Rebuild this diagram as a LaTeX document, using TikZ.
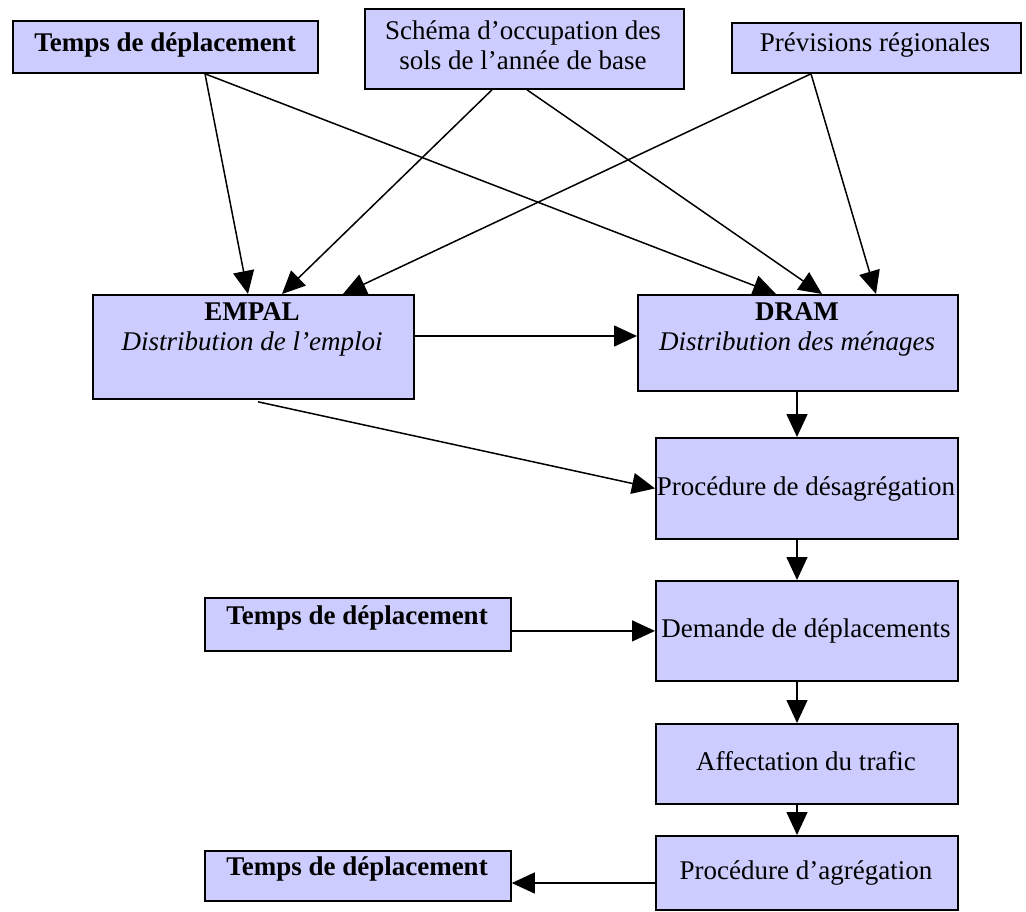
\documentclass[tikz,border=0pt]{standalone}
\usepackage{fontspec}
\setmainfont{Liberation Serif}
\usetikzlibrary{arrows.meta,calc}
\definecolor{boxfill}{HTML}{CCCCFF}
\tikzset{
  box/.style={draw=black, line width=1.8pt, fill=boxfill, anchor=north west, inner sep=0pt},
  lbl/.style={align=center, inner sep=0pt, font=\fontsize{27}{30}\selectfont},
  arr/.style={-{Triangle[length=23pt,width=21pt]}, line width=1.5pt},
}
\begin{document}
\begin{tikzpicture}[x=1pt,y=-1pt]
\useasboundingbox (0,0) rectangle (1026,911);
% boxes
\node[box, minimum width=305pt, minimum height=52pt] (t1) at (12,20) {};
\node[box, minimum width=319pt, minimum height=80pt] (t2) at (364,8) {};
\node[box, minimum width=289pt, minimum height=50pt] (t3) at (731,22) {};
\node[box, minimum width=321pt, minimum height=104pt] (empal) at (92,294) {};
\node[box, minimum width=320pt, minimum height=96pt] (dram) at (637,294) {};
\node[box, minimum width=302pt, minimum height=101pt] (desag) at (655,437) {};
\node[box, minimum width=302pt, minimum height=100pt] (demande) at (655,580) {};
\node[box, minimum width=302pt, minimum height=80pt] (affect) at (655,723) {};
\node[box, minimum width=302pt, minimum height=74pt] (agreg) at (655,835) {};
\node[box, minimum width=306pt, minimum height=53pt] (tmid) at (204,597) {};
\node[box, minimum width=306pt, minimum height=50pt] (tbot) at (204,850) {};
% texts
\node[lbl] (t1txt) at (165,45) {\textbf{Temps de déplacement}};
\node[lbl] (t2txt) at (523,45) {Schéma d’occupation des\\sols de l’année de base};
\node[lbl] (t3txt) at (875,45) {Prévisions régionales};
\node[lbl] (empaltxt) at (252,329) {\textbf{EMPAL}\\\textit{Distribution de l’emploi}};
\node[lbl] (dramtxt) at (797,329) {\textbf{DRAM}\\\textit{Distribution des ménages}};
\node[lbl] (desagtxt) at (806,489) {Procédure de désagrégation};
\node[lbl] (demandetxt) at (806,631) {Demande de déplacements};
\node[lbl] (affecttxt) at (806,761) {Affectation du trafic};
\node[lbl] (agregtxt) at (806,873) {Procédure d’agrégation};
\node[lbl] (tmidtxt) at (357,618) {\textbf{Temps de déplacement}};
\node[lbl] (tbottxt) at (357,869) {\textbf{Temps de déplacement}};
% connectors
\draw[arr] ($(t1.south west)+(193,0)$) -- ($(empal.north west)+(156,0)$);
\draw[arr] ($(t1.south west)+(193,0)$) -- ($(dram.north west)+(139,0)$);
\draw[arr] ($(t2.south west)+(128,0)$) -- ($(empal.north west)+(190,0)$);
\draw[arr] ($(t2.south west)+(163,0)$) -- ($(dram.north west)+(185,0)$);
\draw[arr] ($(t3.south west)+(80,0)$) -- ($(empal.north west)+(251,0)$);
\draw[arr] ($(t3.south west)+(80,0)$) -- ($(dram.north west)+(239,0)$);
\draw[arr] ($(empal.north east)+(0,42)$) -- ($(dram.north west)+(0,42)$);
\draw[arr] ($(empal.south west)+(166,2)$) -- (desag.west);
\draw[arr] ($(dram.south west)+(160,0)$) -- ($(desag.north west)+(142,0)$);
\draw[arr] ($(desag.south west)+(142,0)$) -- ($(demande.north west)+(142,0)$);
\draw[arr] (demande.west -| tmid.east) -- (demande.west);
\draw[arr] ($(demande.south west)+(142,0)$) -- ($(affect.north west)+(142,0)$);
\draw[arr] ($(affect.south west)+(142,0)$) -- ($(agreg.north west)+(142,0)$);
\coordinate (agregin) at ($(agreg.north west)+(0,48)$);
\draw[arr] (agregin) -- (agregin -| tbot.east);
\end{tikzpicture}
\end{document}
